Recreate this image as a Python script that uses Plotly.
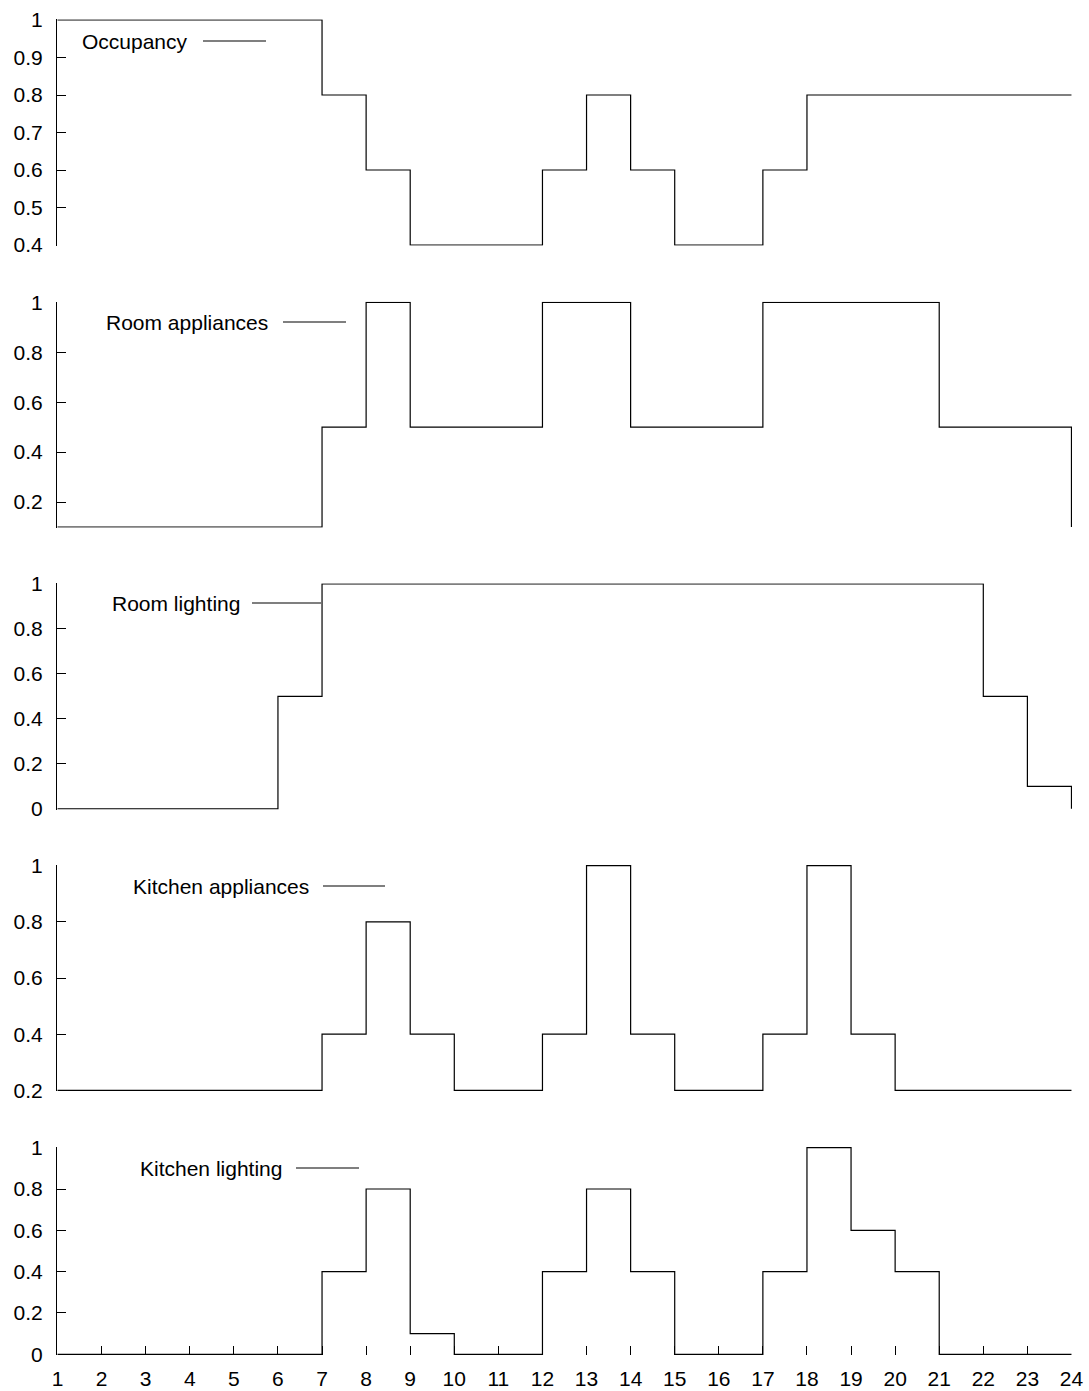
import plotly.graph_objects as go
from plotly.subplots import make_subplots

hours = list(range(1, 25))

occupancy = [1, 1, 1, 1, 1, 1, 0.8, 0.6, 0.4, 0.4, 0.4, 0.6, 0.8, 0.6, 0.4, 0.4, 0.6, 0.8, 0.8, 0.8, 0.8, 0.8, 0.8, 0.8]
room_appliances = [0.1, 0.1, 0.1, 0.1, 0.1, 0.1, 0.5, 1, 0.5, 0.5, 0.5, 1, 1, 0.5, 0.5, 0.5, 1, 1, 1, 1, 0.5, 0.5, 0.5, 0.1]
room_lighting = [0, 0, 0, 0, 0, 0.5, 1, 1, 1, 1, 1, 1, 1, 1, 1, 1, 1, 1, 1, 1, 1, 0.5, 0.1, 0]
kitchen_appliances = [0.2, 0.2, 0.2, 0.2, 0.2, 0.2, 0.4, 0.8, 0.4, 0.2, 0.2, 0.4, 1, 0.4, 0.2, 0.2, 0.4, 1, 0.4, 0.2, 0.2, 0.2, 0.2, 0.2]
kitchen_lighting = [0, 0, 0, 0, 0, 0, 0.4, 0.8, 0.1, 0, 0, 0.4, 0.8, 0.4, 0, 0, 0.4, 1, 0.6, 0.4, 0, 0, 0, 0]

series_names = ["Occupancy", "Room appliances", "Room lighting", "Kitchen appliances", "Kitchen lighting"]
series_values = [occupancy, room_appliances, room_lighting, kitchen_appliances, kitchen_lighting]

y_ranges = [(0.4, 1.0), (0.1, 1.0), (0.0, 1.0), (0.2, 1.0), (0.0, 1.0)]
y_tickvals = [
    [0.4, 0.5, 0.6, 0.7, 0.8, 0.9, 1.0],
    [0.2, 0.4, 0.6, 0.8, 1.0],
    [0.0, 0.2, 0.4, 0.6, 0.8, 1.0],
    [0.2, 0.4, 0.6, 0.8, 1.0],
    [0.0, 0.2, 0.4, 0.6, 0.8, 1.0],
]
y_ticktext = [
    ["0.4", "0.5", "0.6", "0.7", "0.8", "0.9", "1"],
    ["0.2", "0.4", "0.6", "0.8", "1"],
    ["0", "0.2", "0.4", "0.6", "0.8", "1"],
    ["0.2", "0.4", "0.6", "0.8", "1"],
    ["0", "0.2", "0.4", "0.6", "0.8", "1"],
]

# ---- layout geometry (pixels) ----
W, H = 1089, 1391
ML, MR, MT, MB = 57, 17, 19, 36
PW = W - ML - MR
PH = H - MT - MB


def px_x(p):
    return (p - ML) / PW


def px_y(p):
    return 1 - (p - MT) / PH


panel_px = [(19.3, 245.7), (301.7, 527.7), (583.3, 809.5), (865.0, 1091.0), (1147.0, 1355.0)]
# legend: (text right edge, line start, line end, y)
legend_px = [(190, 203, 266, 41), (270, 283, 346, 322), (242, 252, 321, 603),
             (311, 323, 385, 886), (284, 296, 359, 1168)]

FONT = "Liberation Sans, Arial, Helvetica, sans-serif"
FS = 21

fig = make_subplots(rows=5, cols=1, shared_xaxes=False, vertical_spacing=0.02)

for i, (name, vals) in enumerate(zip(series_names, series_values)):
    fig.add_trace(
        go.Scatter(x=hours, y=vals, mode="lines", line=dict(shape="hv", color="black", width=1.2),
                   name=name, showlegend=False, hoverinfo="skip"),
        row=i + 1, col=1,
    )

xeps = 0.012
for i in range(5):
    top, bot = panel_px[i]
    lo, hi = y_ranges[i]
    pad = (hi - lo) / (bot - top) * 0.7
    yname = "yaxis" if i == 0 else f"yaxis{i + 1}"
    xname = "xaxis" if i == 0 else f"xaxis{i + 1}"
    fig.layout[yname].update(
        domain=[px_y(bot), px_y(top)],
        range=[lo - pad, hi + pad],
        tickvals=y_tickvals[i], ticktext=y_ticktext[i],
        ticks="inside", ticklen=9, tickwidth=1, tickcolor="black",
        showline=True, linecolor="black", linewidth=1.2,
        showgrid=False, zeroline=False,
        tickfont=dict(family=FONT, size=FS, color="black"),
        ticklabelstandoff=9,
    )
    last = (i == 4)
    fig.layout[xname].update(
        range=[1 - xeps, 24 + xeps],
        showgrid=False, zeroline=False, showline=False,
        tickvals=hours if last else [],
        ticktext=[str(h) for h in hours] if last else [],
        ticks="inside" if last else "", ticklen=9, tickwidth=1, tickcolor="black",
        showticklabels=last,
        tickfont=dict(family=FONT, size=FS, color="black"),
        ticklabelstandoff=9,
    )

for name, (tr, l0, l1, y) in zip(series_names, legend_px):
    fig.add_annotation(
        x=px_x(tr), y=px_y(y), xref="paper", yref="paper",
        text=name, showarrow=False, xanchor="right", yanchor="middle",
        font=dict(family=FONT, size=FS, color="black"),
    )
    fig.add_shape(
        type="line", xref="paper", yref="paper",
        x0=px_x(l0), x1=px_x(l1), y0=px_y(y), y1=px_y(y),
        line=dict(color="black", width=1.2),
    )

fig.update_layout(
    width=W, height=H,
    margin=dict(l=ML, r=MR, t=MT, b=MB, autoexpand=False),
    paper_bgcolor="white", plot_bgcolor="white",
    showlegend=False,
)

fig.write_html("out.html", config={"displayModeBar": False})
